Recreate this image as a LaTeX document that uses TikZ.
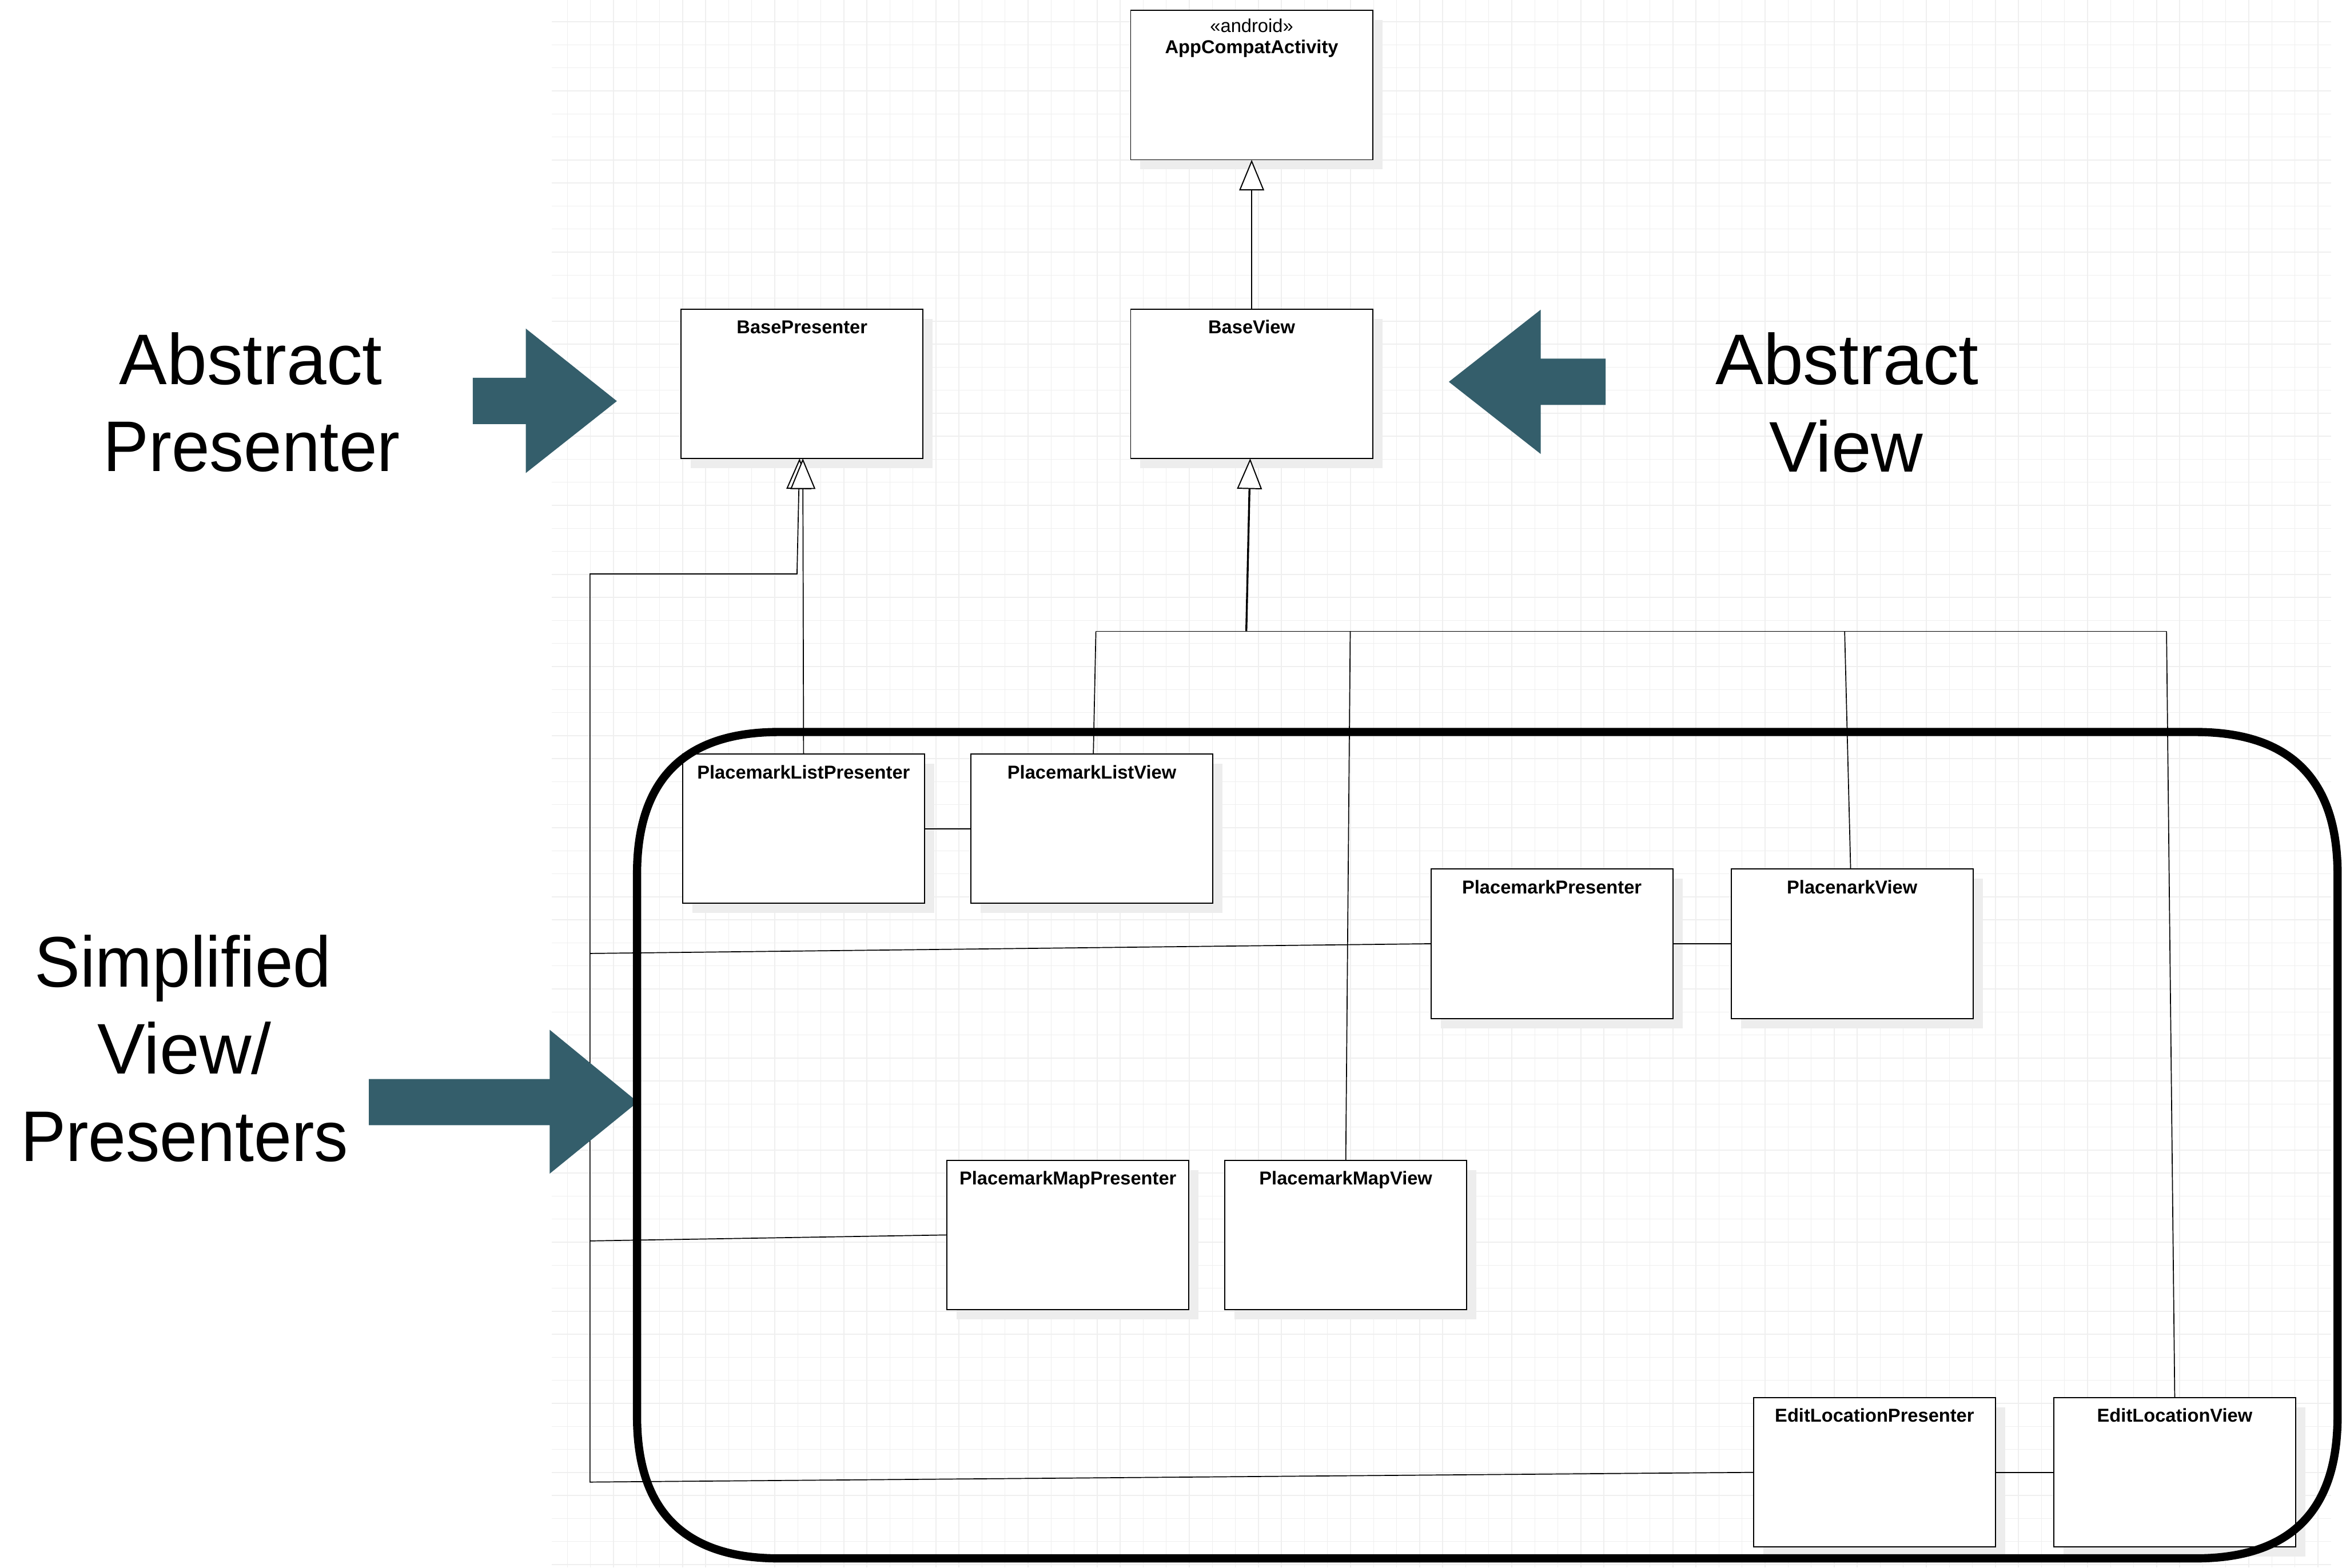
\documentclass[tikz,border=0pt]{standalone}
\usepackage{fontspec}
\setmainfont{Liberation Sans}
\usetikzlibrary{arrows.meta}
\definecolor{arrowteal}{HTML}{345E6B}
\definecolor{gridgray}{HTML}{EFEFEF}
\definecolor{shadowgray}{HTML}{EDEDED}

% UML class box with drop shadow and a bold name near the top
\newcommand\classbox[4]{%
  \fill[shadowgray] ({#2+6.5},{#3+6.5}) rectangle ++(162,100);
  \node[cls] (#1) at (#2,#3) {};
  \node[clsname] (#1-name) at ({#2+81},{#3+16.4}) {#4};
}
% slightly narrower setting for the long caption words
\newcommand\narrowword[1]{\scalebox{0.955}[1]{#1}}

\begin{document}
\begin{tikzpicture}[x=1pt,y=-1pt,
  gridline/.style={draw=gridgray, line width=0.55pt},
  cls/.style={draw=black, line width=0.75pt, fill=white, minimum width=162pt,
    minimum height=100pt, inner sep=0pt, outer sep=0pt, anchor=north west},
  clsname/.style={font=\bfseries\fontsize{12.5}{15}\selectfont, inner sep=0pt, anchor=base},
  stereo/.style={font=\fontsize{12.5}{15}\selectfont, inner sep=0pt, anchor=base},
  link/.style={line width=0.65pt},
  gen/.style={link, -{Triangle[length=20.5pt, width=16.7pt, fill=white, line width=0.75pt]}},
  bigarrow/.style={fill=arrowteal},
  bigtext/.style={font=\fontsize{48}{58}\selectfont, inner sep=0pt, anchor=base},
  group/.style={line width=5.5pt, line join=round}
]
\useasboundingbox (0,0) rectangle (1568,1049.7);
\fill[white] (0,0) rectangle (1568,1049.7);

% background grid
\foreach \k in {0,...,76}
  \draw[gridline] ({379.9+15.42*\k},0) -- ({379.9+15.42*\k},1049.7);
\foreach \k in {0,...,67}
  \draw[gridline] (369.6,{14.6+15.42*\k}) -- (1560.6,{14.6+15.42*\k});

% classes
\fill[shadowgray] (763.5,13.5) rectangle ++(162,100);
\node[cls] (App) at (757,7) {};
\node[stereo] (App-st) at (838,21.6) {«android»};
\node[clsname] (App-name) at (838,35.9) {AppCompatActivity};

\classbox{BasePresenter}{456}{207}{BasePresenter}
\classbox{BaseView}{757}{207}{BaseView}
\classbox{PLP}{457}{505}{PlacemarkListPresenter}
\classbox{PLV}{650}{505}{PlacemarkListView}
\classbox{PP}{958}{582}{PlacemarkPresenter}
\classbox{PV}{1159}{582}{PlacenarkView}
\classbox{PMP}{634}{777}{PlacemarkMapPresenter}
\classbox{PMV}{820}{777}{PlacemarkMapView}
\classbox{ELP}{1174}{936}{EditLocationPresenter}
\classbox{ELV}{1375}{936}{EditLocationView}

% junction points
\coordinate (bvJ) at (834.4,422.8);
\coordinate (bv1) at (733.7,422.8);
\coordinate (bv2) at (904,422.8);
\coordinate (bv3) at (1235,422.8);
\coordinate (bv4) at (1450.5,422.8);
\coordinate (bpTop) at (395,384.3);
\coordinate (bpJ) at (533.6,384.3);
\coordinate (pb1) at (395,638.5);
\coordinate (pb2) at (395,831);
\coordinate (pb3) at (395,992.5);

% AppCompatActivity <- BaseView
\draw[gen] (BaseView.north) -- (App.south);

% views -> BaseView
\draw[link] (bv1) -- (bv4);
\draw[link] ([xshift=1pt]PLV.north) -- (bv1);
\draw[link] (PMV.north) -- (bv2);
\draw[link] ([xshift=-1pt]PV.north) -- (bv3);
\draw[link] (ELV.north) -- (bv4);
\draw[gen, line width=1.3pt] (bvJ) -- ([xshift=-1pt]BaseView.south);

% presenters -> BasePresenter
\draw[link] (ELP.west) -- (pb3) -- (pb2);
\draw[link] (PMP.west) -- (pb2) -- (pb1);
\draw[gen] (PP.west) -- (pb1) -- (bpTop) -- (bpJ) -- ([xshift=-1.7pt]BasePresenter.south);
\draw[gen] (PLP.north) -- ([xshift=0.5pt]BasePresenter.south);

% presenter -- view associations
\draw[link] (PLP.east) -- (PLV.west);
\draw[link] (PP.east) -- (PV.west);
\draw[link] (ELP.east) -- (ELV.west);

% pointer arrows
\fill[bigarrow] (316.5,253) -- (352,253) -- (352,220) -- (413,268.6)
  -- (352,316.8) -- (352,284) -- (316.5,284) -- cycle;
\fill[bigarrow] (1075,240.2) -- (1031.5,240.2) -- (1031.5,207.4) -- (970,255.7)
  -- (1031.5,304) -- (1031.5,271.2) -- (1075,271.2) -- cycle;
\fill[bigarrow] (247,722.6) -- (368,722.6) -- (368,689.6) -- (427,738)
  -- (368,786) -- (368,753.5) -- (247,753.5) -- cycle;

% captions
\node[bigtext] (capAP1) at (168,257.6) {Abstract};
\node[bigtext] (capAP2) at (168.5,315.6) {\narrowword{Presenter}};
\node[bigtext] (capAV1) at (1236.7,257.6) {Abstract};
\node[bigtext] (capAV2) at (1236,315.9) {View};
\node[bigtext] (capS1) at (122.5,660.8) {\narrowword{Simplified}};
\node[bigtext] (capS2) at (123.5,719) {View/};
\node[bigtext] (capS3) at (123.5,777.5) {\scalebox{0.945}[1]{Presenters}};

% outline around the simplified view/presenter classes
\draw[group] (426.5,585.2) .. controls (426.5,522) and (458.2,490.2) .. (521.5,490.2)
  -- (1470,490.2) .. controls (1533.3,490.2) and (1565,522) .. (1565,585.2)
  -- (1565,948.6) .. controls (1565,1011.9) and (1533.3,1043.6) .. (1470,1043.6)
  -- (521.5,1043.6) .. controls (458.2,1043.6) and (426.5,1011.9) .. (426.5,948.6)
  -- cycle;
\end{tikzpicture}
\end{document}
